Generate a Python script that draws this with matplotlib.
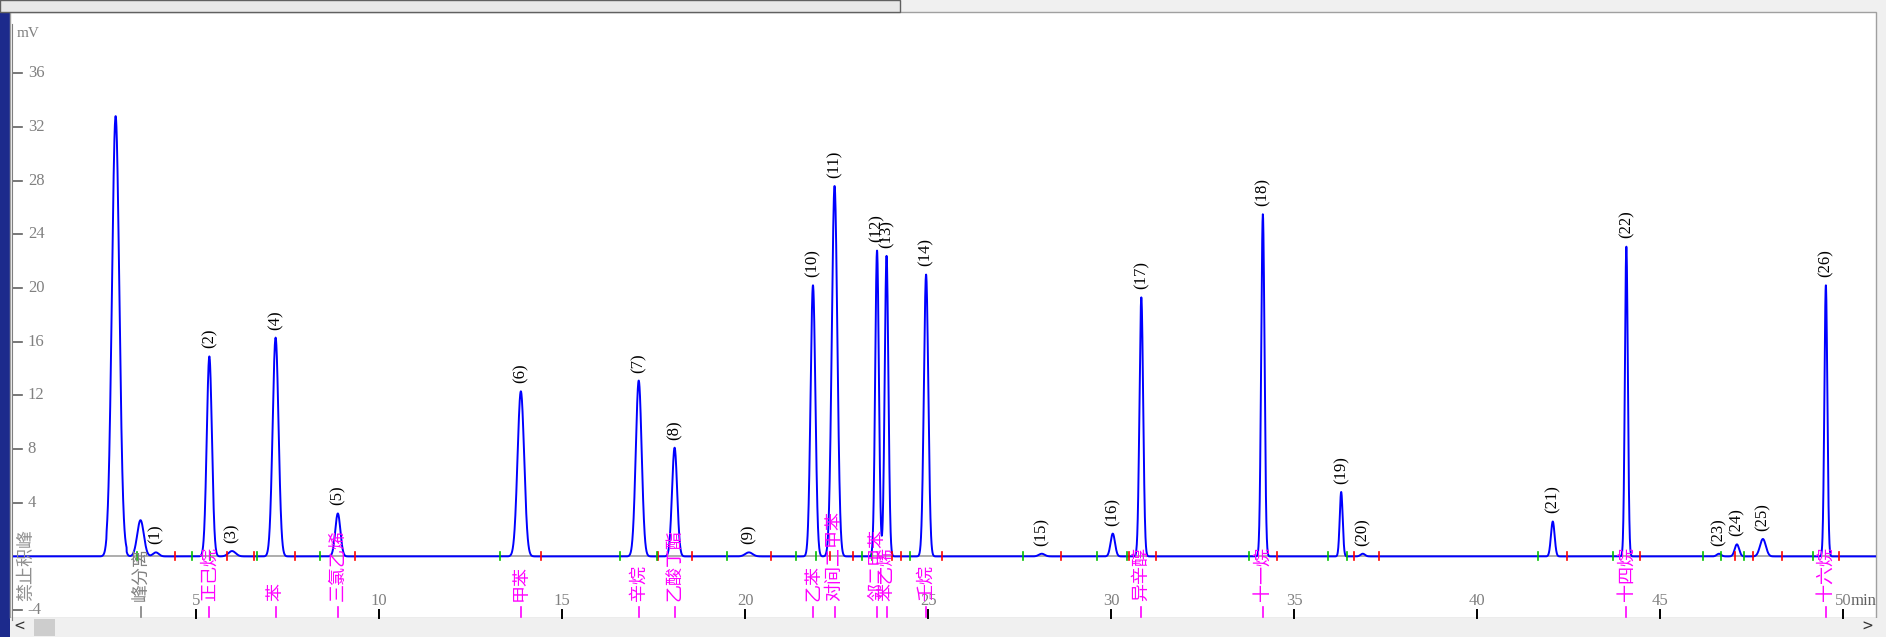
import numpy as np
import matplotlib
matplotlib.use("Agg")
import matplotlib.pyplot as plt
from matplotlib.patches import Rectangle

plt.rcParams['font.family'] = ['Noto Sans CJK SC', 'DejaVu Sans']

# peak data: retention time (min), height (mV), sigma (min)
solvent_t = [2.80, 3.48]
solvent_h = [32.5, 2.7]
solvent_s = [0.10, 0.09]
peak_no = list(range(1, 27))
peak_t = [3.90, 5.36, 5.98, 7.17, 8.87, 13.87, 17.09, 18.07, 20.10, 21.85, 22.44, 23.60, 23.86,
          24.94, 28.10, 30.04, 30.82, 34.14, 36.28, 36.87, 42.06, 44.07, 46.60, 47.09, 47.80, 49.52]
peak_h = [0.3, 14.9, 0.4, 16.3, 3.2, 12.3, 13.1, 8.1, 0.3, 20.2, 27.6, 22.8, 22.4,
          21.0, 0.2, 1.7, 19.3, 25.5, 4.8, 0.2, 2.6, 23.1, 0.2, 0.9, 1.3, 20.2]
peak_s = [0.08, 0.07, 0.10, 0.08, 0.07, 0.09, 0.08, 0.07, 0.10, 0.065, 0.075, 0.05, 0.05,
          0.06, 0.08, 0.06, 0.05, 0.045, 0.04, 0.06, 0.05, 0.04, 0.06, 0.06, 0.08, 0.04]
names = {2: '正己烷', 4: '苯', 5: '三氯乙烯', 6: '甲苯', 7: '辛烷', 8: '乙酸丁酯', 10: '乙苯',
         11: '对间二甲苯', 12: '邻二甲苯', 13: '苯乙烯', 14: '壬烷', 17: '异辛醇', 18: '十一烷',
         22: '十四烷', 26: '十六烷'}
xticks = [5, 10, 15, 20, 25, 30, 35, 40, 45, 50]
yticks = [-4, 4, 8, 12, 16, 20, 24, 28, 32, 36]

t = np.linspace(0, 51, 12000)
sig = np.zeros_like(t)
for a, h, s in zip(solvent_t + peak_t, solvent_h + peak_h, solvent_s + peak_s):
    sig += h * np.exp(-0.5 * ((t - a) / s) ** 2)
sig[(t > 2.55) & (t < 3.1)] += 0.3

fig = plt.figure(figsize=(18.86, 6.37), dpi=100)
fig.patch.set_facecolor('#f0f0f0')
W, H = 1568, 530  # layout reference grid (scaled)
kw = dict(transform=fig.transFigure, zorder=-5)
fig.add_artist(Rectangle((0, 0), 8 / W, 1, color='#1c2a8c', **kw))
fig.add_artist(Rectangle((8 / W, 16 / H), 1552 / W, 504 / H, facecolor='white',
                         edgecolor='#a0a0a0', **kw))
fig.add_artist(Rectangle((0, 1 - 10 / H), 748 / W, 10 / H, facecolor='#e8e8e8',
                         edgecolor='#606060', **kw))
fig.add_artist(Rectangle((8 / W, 0), 1560 / W, 16 / H, facecolor='#f0f0f0', **kw))
fig.add_artist(Rectangle((28 / W, 1 / H), 18 / W, 14 / H, facecolor='#cdcdcd', **kw))
fig.text(12 / W, 8 / H, '<', fontsize=13, color='#333333', va='center')
fig.text(1548 / W, 8 / H, '>', fontsize=13, color='#333333', va='center')

ax = fig.add_axes([10 / W, (H - 516) / H, 1550 / W, 496 / H])
ax.set_xlim(-0.03, 50.9)
ax.set_ylim(-4.75, 39.66)
ax.patch.set_alpha(0)
for sp in ['top', 'right', 'bottom']:
    ax.spines[sp].set_visible(False)
ax.spines['left'].set_color('#808080')
ax.set_xticks([]); ax.set_yticks([])

ax.axhline(0, color='#a0a0a0', lw=1.2)
ax.plot(t, sig, color='#0000ff', lw=1.4)

for y in yticks:
    ax.plot([0, 0.25], [y, y], color='#606060', lw=1.2)
    ax.text(0.4, y, str(y), fontsize=12, color='#808080', va='center', family='Liberation Serif')
ax.text(0.1, 38.7, 'mV', fontsize=11, color='#808080', family='Liberation Serif')
for x in xticks:
    ax.plot([x, x], [-4.6, -4.0], color='black', lw=1.4)
    ax.text(x, -3.3, str(x), fontsize=12, color='#808080', ha='center', va='center',
            family='Liberation Serif')
ax.text(50.9, -3.3, 'min', fontsize=12, color='#606060', ha='right', va='center',
        family='Liberation Serif')

for n, a, h, s in zip(peak_no, peak_t, peak_h, peak_s):
    ax.text(a, h + 0.6, f'({n})', rotation=90, fontsize=12, ha='center', va='bottom',
            family='Liberation Serif')
    ax.plot([a - 4 * s - 0.2] * 2, [-0.3, 0.3], color='#00c000', lw=1.2)
    ax.plot([a + 4 * s + 0.2] * 2, [-0.3, 0.3], color='#ff0000', lw=1.2)
    if n in names:
        ax.text(a, -3.3, names[n], rotation=90, fontsize=13, color='#ff00ff', ha='center',
                va='bottom')
        ax.plot([a, a], [-4.5, -3.8], color='#ff00ff', lw=1.2)
ax.text(solvent_t[1], -3.3, '峰分离', rotation=90, fontsize=13, color='#808080', ha='center',
        va='bottom')
ax.plot([solvent_t[1]] * 2, [-4.5, -3.8], color='#808080', lw=1.2)
ax.text(0.35, -3.3, '禁止积峰', rotation=90, fontsize=13, color='#909090', ha='center',
        va='bottom')

fig.savefig('out.png', dpi=100, facecolor=fig.get_facecolor())
